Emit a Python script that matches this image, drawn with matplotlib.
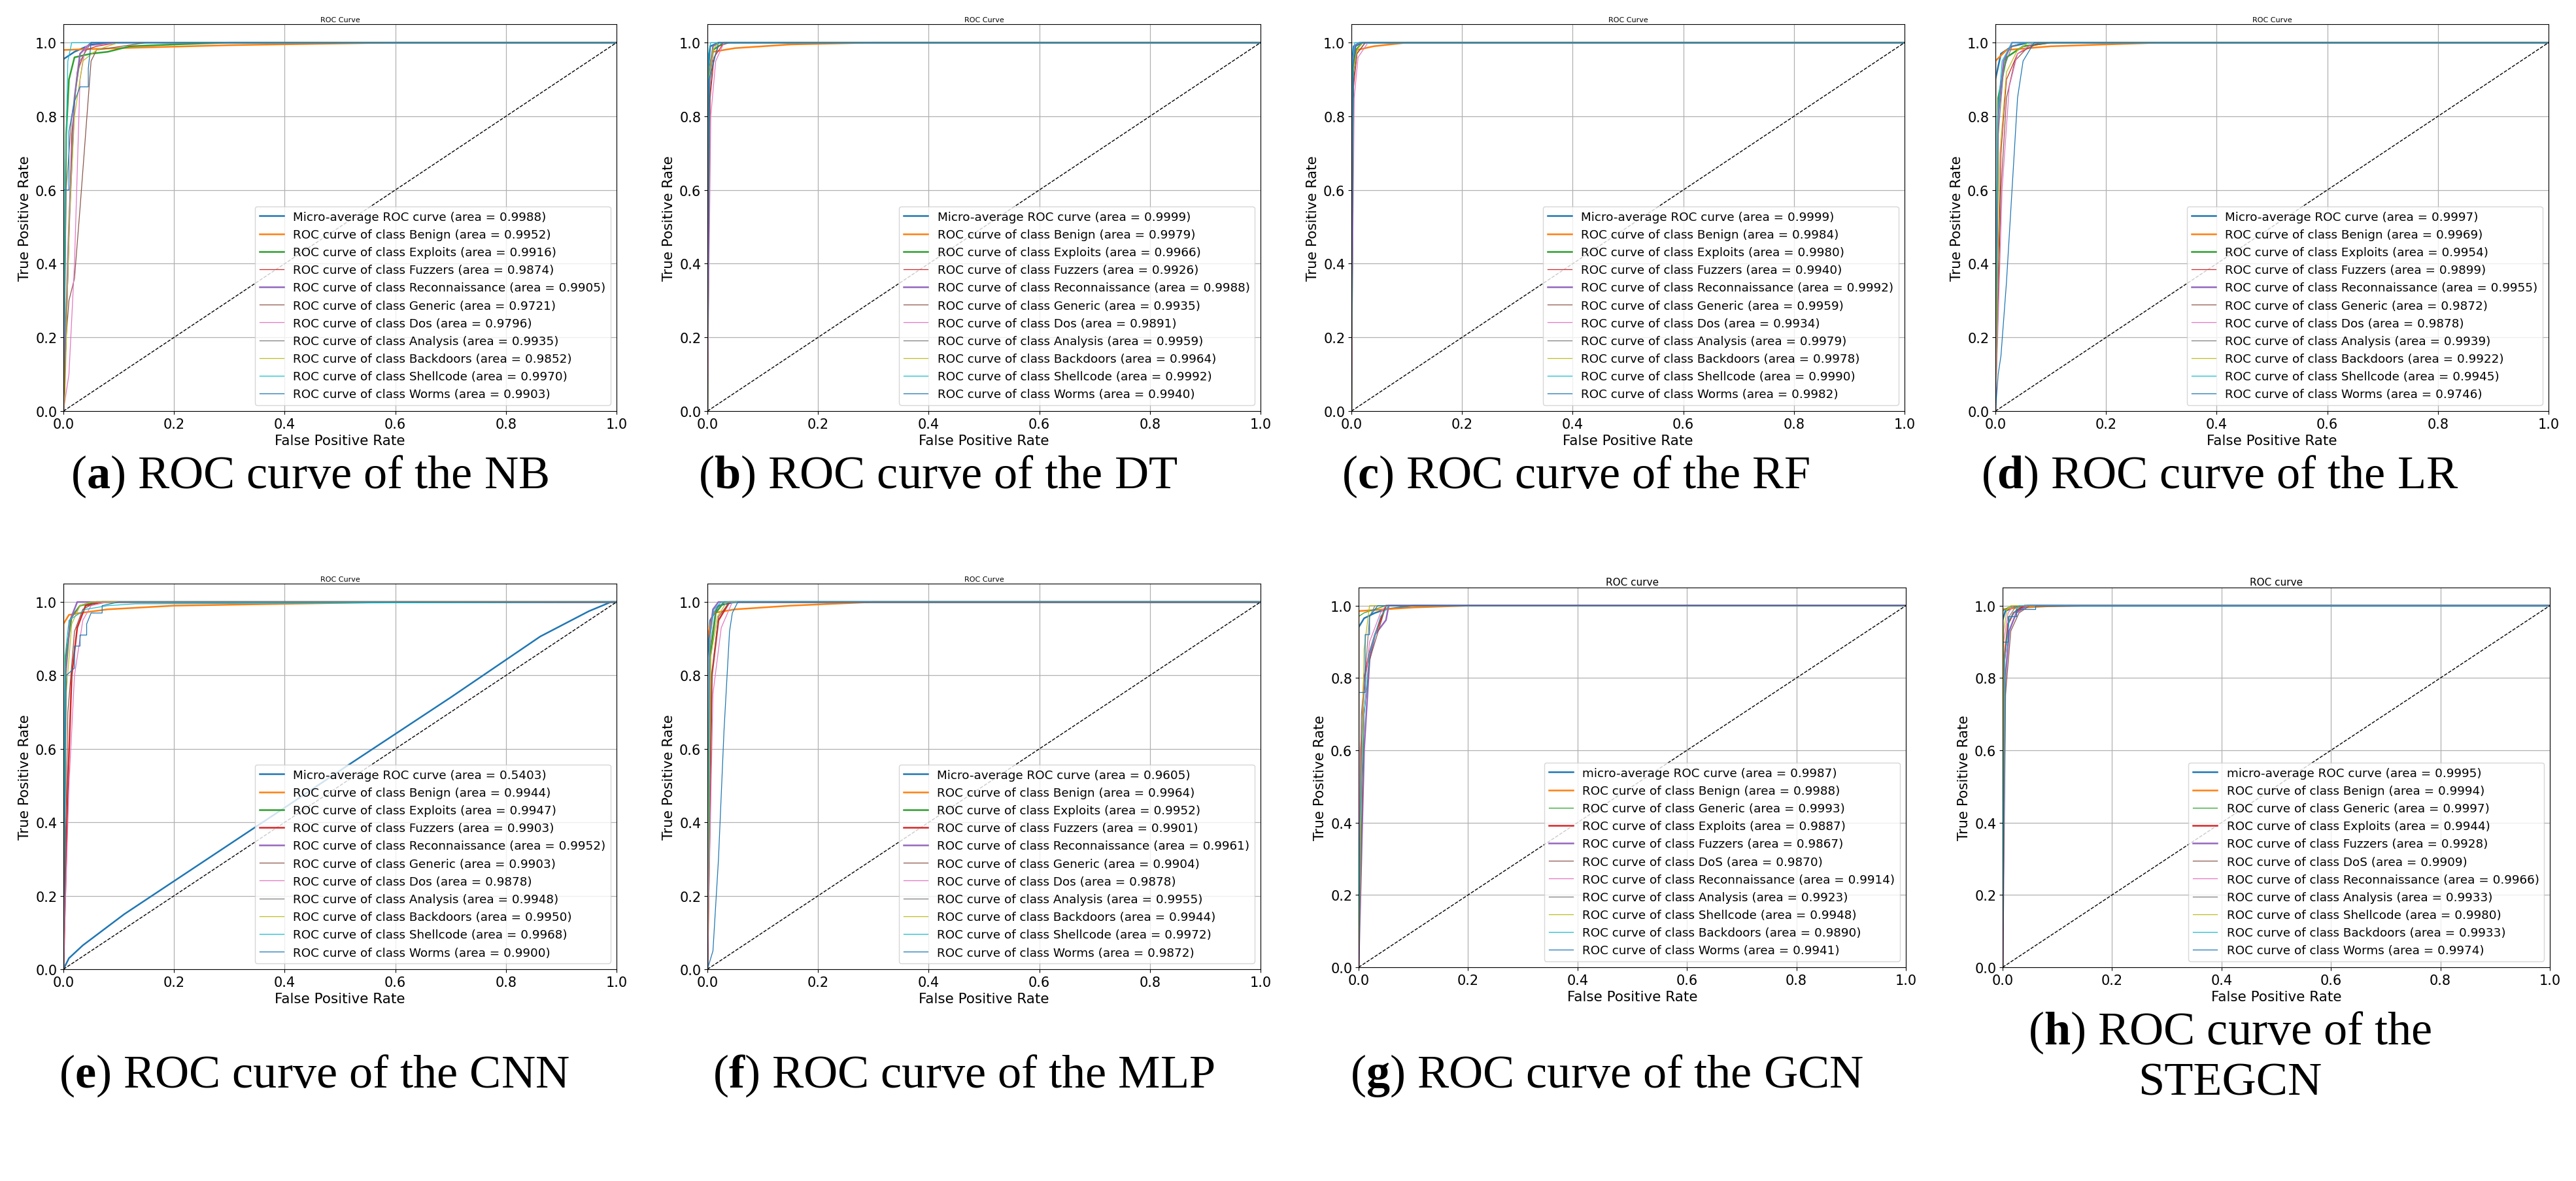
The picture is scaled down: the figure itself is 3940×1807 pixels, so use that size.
import matplotlib
matplotlib.use("Agg")
import matplotlib.pyplot as plt

plt.rcParams['font.family'] = ['DejaVu Sans']
plt.rcParams['mathtext.fontset'] = 'custom'
plt.rcParams['mathtext.rm'] = 'Liberation Serif'
plt.rcParams['mathtext.bf'] = 'Liberation Serif:bold'

# ---------------- data ----------------
MODELS = ["NB", "DT", "RF", "LR", "CNN", "MLP", "GCN", "STEGCN"]
LETTERS = ["a", "b", "c", "d", "e", "f", "g", "h"]
CLASSES_A = ["Benign", "Exploits", "Fuzzers", "Reconnaissance", "Generic", "Dos",
             "Analysis", "Backdoors", "Shellcode", "Worms"]
CLASSES_G = ["Benign", "Generic", "Exploits", "Fuzzers", "DoS", "Reconnaissance",
             "Analysis", "Shellcode", "Backdoors", "Worms"]

AUC_NB = [0.9988, 0.9952, 0.9916, 0.9874, 0.9905, 0.9721, 0.9796, 0.9935, 0.9852, 0.9970, 0.9903]
AUC_DT = [0.9999, 0.9979, 0.9966, 0.9926, 0.9988, 0.9935, 0.9891, 0.9959, 0.9964, 0.9992, 0.9940]
AUC_RF = [0.9999, 0.9984, 0.9980, 0.9940, 0.9992, 0.9959, 0.9934, 0.9979, 0.9978, 0.9990, 0.9982]
AUC_LR = [0.9997, 0.9969, 0.9954, 0.9899, 0.9955, 0.9872, 0.9878, 0.9939, 0.9922, 0.9945, 0.9746]
AUC_CNN = [0.5403, 0.9944, 0.9947, 0.9903, 0.9952, 0.9903, 0.9878, 0.9948, 0.9950, 0.9968, 0.9900]
AUC_MLP = [0.9605, 0.9964, 0.9952, 0.9901, 0.9961, 0.9904, 0.9878, 0.9955, 0.9944, 0.9972, 0.9872]
AUC_GCN = [0.9987, 0.9988, 0.9993, 0.9887, 0.9867, 0.9870, 0.9914, 0.9923, 0.9948, 0.9890, 0.9941]
AUC_STEGCN = [0.9995, 0.9994, 0.9997, 0.9944, 0.9928, 0.9909, 0.9966, 0.9933, 0.9980, 0.9933, 0.9974]

# curves: (fpr, tpr) points, order = micro, then classes
NB_CURVES = [
    [(0, 0), (0, 0.955), (0.01, 0.965), (0.02, 0.975), (0.035, 0.985), (0.05, 0.995), (0.1, 1.0), (1, 1)],
    [(0, 0), (0, 0.98), (0.1, 0.985), (0.3, 0.993), (0.6, 1.0), (1, 1)],
    [(0, 0), (0.005, 0.75), (0.01, 0.9), (0.02, 0.96), (0.05, 0.97), (0.08, 0.975), (0.12, 0.99), (0.2, 0.995), (0.3, 1.0), (1, 1)],
    [(0, 0), (0.005, 0.2), (0.015, 0.75), (0.025, 0.92), (0.04, 0.98), (0.06, 0.99), (0.1, 1.0), (1, 1)],
    [(0, 0), (0.01, 0.5), (0.02, 0.85), (0.03, 0.97), (0.05, 1.0), (1, 1)],
    [(0, 0), (0.005, 0.2), (0.01, 0.3), (0.02, 0.36), (0.03, 0.55), (0.04, 0.75), (0.05, 0.95), (0.06, 0.98), (0.15, 1.0), (1, 1)],
    [(0, 0), (0.01, 0.1), (0.02, 0.4), (0.03, 0.9), (0.04, 0.99), (0.1, 1.0), (1, 1)],
    [(0, 0), (0.005, 0.6), (0.015, 0.8), (0.03, 0.95), (0.05, 1.0), (1, 1)],
    [(0, 0), (0.003, 0.05), (0.01, 0.5), (0.02, 0.8), (0.035, 0.95), (0.06, 0.98), (0.1, 1.0), (1, 1)],
    [(0, 0), (0.003, 0.6), (0.008, 0.95), (0.015, 1.0), (1, 1)],
    [(0, 0), (0, 0.6), (0.01, 0.6), (0.01, 0.76), (0.02, 0.84), (0.03, 0.88), (0.045, 0.88), (0.045, 0.93), (0.05, 1.0), (1, 1)],
]
DT_CURVES = [
    [(0, 0), (0, 0.9), (0.005, 0.99), (0.02, 1.0), (1, 1)],
    [(0, 0), (0.002, 0.9), (0.01, 0.975), (0.05, 0.985), (0.15, 0.995), (0.3, 1.0), (1, 1)],
    [(0, 0), (0.003, 0.9), (0.01, 0.98), (0.03, 1.0), (1, 1)],
    [(0, 0), (0.005, 0.85), (0.012, 0.96), (0.03, 1.0), (1, 1)],
    [(0, 0), (0, 0.2), (0.004, 0.9), (0.01, 0.99), (0.02, 1.0), (1, 1)],
    [(0, 0), (0.004, 0.85), (0.01, 0.95), (0.02, 0.99), (0.04, 1.0), (1, 1)],
    [(0, 0), (0.006, 0.8), (0.015, 0.95), (0.03, 1.0), (1, 1)],
    [(0, 0), (0.003, 0.93), (0.01, 0.99), (0.02, 1.0), (1, 1)],
    [(0, 0), (0.003, 0.9), (0.01, 0.98), (0.02, 1.0), (1, 1)],
    [(0, 0), (0.002, 0.97), (0.006, 1.0), (1, 1)],
    [(0, 0), (0.003, 0.9), (0.012, 0.95), (0.02, 1.0), (1, 1)],
]
RF_CURVES = [
    [(0, 0), (0, 0.93), (0.004, 0.99), (0.015, 1.0), (1, 1)],
    [(0, 0), (0.002, 0.92), (0.01, 0.98), (0.04, 0.99), (0.1, 1.0), (1, 1)],
    [(0, 0), (0.003, 0.92), (0.008, 0.98), (0.02, 1.0), (1, 1)],
    [(0, 0), (0.004, 0.88), (0.01, 0.97), (0.025, 1.0), (1, 1)],
    [(0, 0), (0.002, 0.95), (0.006, 0.99), (0.015, 1.0), (1, 1)],
    [(0, 0), (0.004, 0.9), (0.01, 0.97), (0.025, 1.0), (1, 1)],
    [(0, 0), (0.005, 0.85), (0.012, 0.96), (0.03, 1.0), (1, 1)],
    [(0, 0), (0.003, 0.93), (0.008, 0.99), (0.02, 1.0), (1, 1)],
    [(0, 0), (0.003, 0.92), (0.01, 0.98), (0.02, 1.0), (1, 1)],
    [(0, 0), (0.002, 0.96), (0.006, 1.0), (1, 1)],
    [(0, 0), (0.003, 0.94), (0.008, 0.99), (0.02, 1.0), (1, 1)],
]
LR_CURVES = [
    [(0, 0), (0, 0.9), (0.01, 0.97), (0.03, 0.99), (0.06, 1.0), (1, 1)],
    [(0, 0), (0, 0.95), (0.02, 0.98), (0.1, 0.99), (0.3, 1.0), (1, 1)],
    [(0, 0), (0.005, 0.85), (0.02, 0.96), (0.05, 0.99), (0.1, 1.0), (1, 1)],
    [(0, 0), (0.01, 0.7), (0.02, 0.9), (0.04, 0.97), (0.08, 1.0), (1, 1)],
    [(0, 0), (0.005, 0.8), (0.015, 0.95), (0.03, 1.0), (1, 1)],
    [(0, 0), (0.01, 0.6), (0.02, 0.85), (0.035, 0.95), (0.06, 0.99), (0.1, 1.0), (1, 1)],
    [(0, 0), (0.012, 0.6), (0.025, 0.88), (0.04, 0.97), (0.07, 1.0), (1, 1)],
    [(0, 0), (0.005, 0.75), (0.015, 0.93), (0.03, 0.99), (0.05, 1.0), (1, 1)],
    [(0, 0), (0.008, 0.7), (0.02, 0.92), (0.04, 0.98), (0.06, 1.0), (1, 1)],
    [(0, 0), (0.004, 0.8), (0.012, 0.95), (0.03, 1.0), (1, 1)],
    [(0, 0), (0.005, 0.1), (0.01, 0.15), (0.02, 0.35), (0.03, 0.6), (0.04, 0.85), (0.05, 0.95), (0.07, 1.0), (1, 1)],
]
CNN_CURVES = [
    [(0, 0), (0.01, 0.03), (0.035, 0.065), (0.11, 0.15), (0.2, 0.24), (0.3, 0.34), (0.4, 0.44), (0.516, 0.557),
     (0.7, 0.74), (0.862, 0.906), (0.95, 0.975), (0.99, 1.0), (1, 1)],
    [(0, 0), (0, 0.94), (0.01, 0.965), (0.03, 0.97), (0.08, 0.98), (0.2, 0.99), (0.4, 0.995), (0.6, 1.0), (1, 1)],
    [(0, 0), (0.004, 0.85), (0.015, 0.96), (0.03, 0.99), (0.06, 1.0), (1, 1)],
    [(0, 0), (0.008, 0.5), (0.015, 0.8), (0.025, 0.93), (0.04, 0.99), (0.07, 1.0), (1, 1)],
    [(0, 0), (0.004, 0.8), (0.012, 0.95), (0.025, 1.0), (1, 1)],
    [(0, 0), (0.008, 0.7), (0.02, 0.92), (0.035, 0.98), (0.06, 1.0), (1, 1)],
    [(0, 0), (0.01, 0.5), (0.02, 0.8), (0.035, 0.95), (0.05, 0.99), (0.08, 1.0), (1, 1)],
    [(0, 0), (0.004, 0.8), (0.012, 0.95), (0.03, 0.99), (0.05, 1.0), (1, 1)],
    [(0, 0), (0.005, 0.75), (0.015, 0.94), (0.03, 0.99), (0.05, 1.0), (1, 1)],
    [(0, 0), (0.003, 0.85), (0.01, 0.95), (0.04, 0.98), (0.08, 0.99), (0.13, 0.995), (1, 1)],
    [(0, 0), (0.005, 0.8), (0.02, 0.82), (0.02, 0.88), (0.03, 0.88), (0.03, 0.91), (0.042, 0.91), (0.042, 0.94),
     (0.05, 0.97), (0.07, 0.97), (0.07, 0.99), (0.1, 1.0), (1, 1)],
]
MLP_CURVES = [
    [(0, 0), (0, 0.85), (0.005, 0.95), (0.02, 0.99), (0.05, 1.0), (1, 1)],
    [(0, 0), (0, 0.9), (0.01, 0.97), (0.05, 0.98), (0.15, 0.99), (0.3, 1.0), (1, 1)],
    [(0, 0), (0.005, 0.85), (0.015, 0.97), (0.03, 1.0), (1, 1)],
    [(0, 0), (0.008, 0.8), (0.02, 0.95), (0.04, 1.0), (1, 1)],
    [(0, 0), (0.004, 0.9), (0.01, 0.98), (0.02, 1.0), (1, 1)],
    [(0, 0), (0.008, 0.8), (0.02, 0.96), (0.04, 1.0), (1, 1)],
    [(0, 0), (0.01, 0.75), (0.025, 0.93), (0.045, 1.0), (1, 1)],
    [(0, 0), (0.005, 0.88), (0.015, 0.98), (0.03, 1.0), (1, 1)],
    [(0, 0), (0.006, 0.85), (0.018, 0.96), (0.035, 1.0), (1, 1)],
    [(0, 0), (0.004, 0.9), (0.012, 0.98), (0.025, 1.0), (1, 1)],
    [(0, 0), (0.01, 0.05), (0.02, 0.3), (0.03, 0.65), (0.04, 0.92), (0.045, 0.97), (0.055, 1.0), (1, 1)],
]
GCN_CURVES = [
    [(0, 0), (0, 0.94), (0.01, 0.965), (0.03, 0.98), (0.05, 0.99), (0.1, 1.0), (1, 1)],
    [(0, 0), (0, 0.985), (0.03, 0.988), (0.1, 0.995), (0.2, 1.0), (1, 1)],
    [(0, 0), (0, 0.97), (0.01, 0.98), (0.03, 0.99), (0.05, 1.0), (1, 1)],
    [(0, 0), (0.005, 0.6), (0.01, 0.8), (0.02, 0.87), (0.03, 0.92), (0.04, 0.96), (0.05, 1.0), (1, 1)],
    [(0, 0), (0.01, 0.6), (0.02, 0.85), (0.03, 0.92), (0.05, 0.96), (0.055, 1.0), (1, 1)],
    [(0, 0), (0.01, 0.7), (0.02, 0.85), (0.03, 0.9), (0.04, 0.95), (0.05, 1.0), (1, 1)],
    [(0, 0), (0.003, 0.6), (0.01, 0.75), (0.02, 0.9), (0.04, 0.98), (0.05, 1.0), (1, 1)],
    [(0, 0), (0.005, 0.7), (0.015, 0.87), (0.02, 0.97), (0.03, 1.0), (1, 1)],
    [(0, 0), (0.005, 0.5), (0.01, 0.88), (0.02, 1.0), (1, 1)],
    [(0, 0), (0.003, 0.4), (0.01, 0.7), (0.02, 0.87), (0.04, 0.97), (0.055, 1.0), (1, 1)],
    [(0, 0), (0, 0.76), (0.012, 0.76), (0.012, 0.92), (0.02, 0.92), (0.02, 0.97), (0.035, 1.0), (1, 1)],
]
STEGCN_CURVES = [
    [(0, 0), (0, 0.96), (0.005, 0.985), (0.02, 0.995), (0.05, 1.0), (1, 1)],
    [(0, 0), (0, 0.99), (0.02, 0.993), (0.08, 0.998), (0.15, 1.0), (1, 1)],
    [(0, 0), (0, 0.985), (0.01, 0.995), (0.03, 1.0), (1, 1)],
    [(0, 0), (0.003, 0.85), (0.01, 0.95), (0.02, 0.98), (0.04, 1.0), (1, 1)],
    [(0, 0), (0.005, 0.8), (0.012, 0.93), (0.025, 0.98), (0.045, 1.0), (1, 1)],
    [(0, 0), (0.005, 0.75), (0.015, 0.93), (0.03, 0.98), (0.05, 1.0), (1, 1)],
    [(0, 0), (0.002, 0.9), (0.01, 0.98), (0.02, 1.0), (1, 1)],
    [(0, 0), (0.004, 0.85), (0.012, 0.97), (0.025, 1.0), (1, 1)],
    [(0, 0), (0.002, 0.93), (0.008, 0.99), (0.015, 1.0), (1, 1)],
    [(0, 0), (0.004, 0.85), (0.012, 0.96), (0.03, 1.0), (1, 1)],
    [(0, 0), (0, 0.9), (0.01, 0.9), (0.01, 0.97), (0.025, 0.97), (0.025, 0.99), (0.06, 0.99), (0.06, 1.0), (1, 1)],
]

ALL_AUC = [AUC_NB, AUC_DT, AUC_RF, AUC_LR, AUC_CNN, AUC_MLP, AUC_GCN, AUC_STEGCN]
ALL_CURVES = [NB_CURVES, DT_CURVES, RF_CURVES, LR_CURVES, CNN_CURVES, MLP_CURVES, GCN_CURVES, STEGCN_CURVES]

# ---------------- layout (pixels) ----------------
W, H = 3940, 1808
fig = plt.figure(figsize=(W / 100, H / 100), dpi=100)

def px_axes(left, top, right, bottom):
    return fig.add_axes([left / W, 1 - bottom / H, (right - left) / W, (bottom - top) / H])

BOXES = [
    (97, 38, 943, 630), (1082, 38, 1928, 630), (2067, 38, 2913, 630), (3052, 38, 3898, 630),
    (97, 894, 943, 1484), (1082, 894, 1928, 1484), (2078, 900, 2915, 1481), (3063, 900, 3900, 1481),
]
THICK = [
    {0, 1, 2, 4}, {0, 1, 2, 4}, {0, 1, 2, 4}, {0, 1, 2, 4},
    {0, 1, 2, 3, 4}, {0, 1, 2, 3, 4}, {0, 1, 3, 4}, {0, 1, 3, 4},
]
CAPTION_POS = [(473, 729), (1435, 729), (2410, 729), (3395, 729),
               (480, 1646), (1474, 1646), (2458, 1646), (3411, 1618)]

colors = plt.rcParams['axes.prop_cycle'].by_key()['color']

for i in range(8):
    ax = px_axes(*BOXES[i])
    gcn_style = i >= 6
    classes = CLASSES_G if gcn_style else CLASSES_A
    first = "micro-average ROC curve" if gcn_style else "Micro-average ROC curve"
    labels = [first] + ["ROC curve of class " + c for c in classes]
    for k, (pts, auc, lab) in enumerate(zip(ALL_CURVES[i], ALL_AUC[i], labels)):
        xs = [p[0] for p in pts]
        ys = [p[1] for p in pts]
        lw = 1.8 if k in THICK[i] else 0.9
        ax.plot(xs, ys, color=colors[k % 10], lw=lw,
                label="{} (area = {:.4f})".format(lab, auc))
    ax.plot([0, 1], [0, 1], 'k--', lw=1.0)
    ax.set_xlim(0, 1.0)
    ax.set_ylim(0, 1.05)
    ax.grid(True, color='#b0b0b0', lw=0.9)
    ax.tick_params(labelsize=15)
    ax.set_xlabel("False Positive Rate", fontsize=15.5)
    ax.set_ylabel("True Positive Rate", fontsize=15.5)
    if gcn_style:
        ax.set_title("ROC curve", fontsize=11, pad=3)
    else:
        ax.set_title("ROC Curve", fontsize=8, pad=3)
    ax.legend(loc="lower right", fontsize=13.2, labelspacing=0.5)

    cx, cy = CAPTION_POS[i]
    if MODELS[i] == "STEGCN":
        txt = "($\\mathbf{%s}$) ROC curve of the\nSTEGCN" % LETTERS[i]
    else:
        txt = "($\\mathbf{%s}$) ROC curve of the %s" % (LETTERS[i], MODELS[i])
    fig.text(cx / W, 1 - cy / H, txt, family='Liberation Serif', fontsize=52,
             ha='center', va='center', multialignment='center', linespacing=1.2)

fig.savefig("out.png", dpi=100)
